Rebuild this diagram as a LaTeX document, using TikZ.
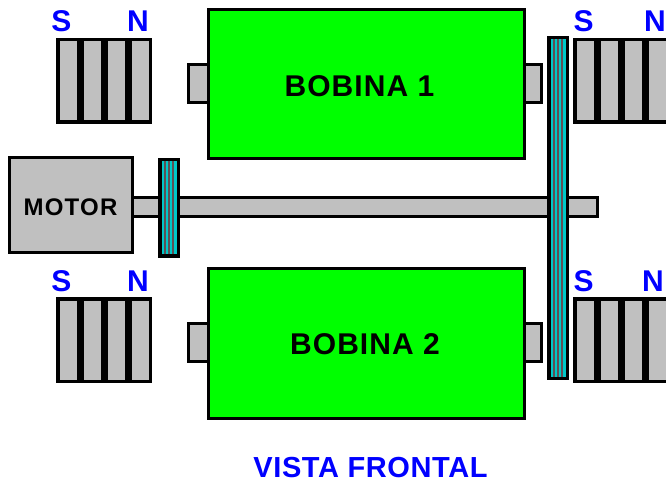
\documentclass[tikz,border=0pt]{standalone}
\usepackage{fontspec}
\setmainfont{Liberation Sans}
\newfontfamily\labelfont[LetterSpace=3.5]{Liberation Sans}
\newfontfamily\capfont[LetterSpace=2]{Liberation Sans}
\newfontfamily\motorfont[LetterSpace=5]{Liberation Sans}
\definecolor{partgray}{RGB}{192,192,192}
\definecolor{coilgreen}{RGB}{0,255,0}
\definecolor{poleblue}{RGB}{0,0,255}
\definecolor{beltteal}{RGB}{0,200,200}
\definecolor{beltline}{RGB}{95,80,85}
\newcommand{\magnetbank}[3]{%
  % #1 name, #2 left x, #3 top y
  \node[magnetback,anchor=north west] (#1) at (#2,#3) {};
  \foreach \dx in {3.5,27.5,51.5,75.5}
    \fill[partgray] (#2+\dx,#3+3.5) rectangle ++(17,79);
}
\newcommand{\beltstripes}[3]{%
  % #1 left x, #2 top y, #3 bottom y
  \fill[beltteal] (#1,#2) rectangle (#1+15,#3);
  \foreach \dx in {3.5,7.5,11.5}
    \draw[beltline,line width=1.5] (#1+\dx,#2) -- (#1+\dx,#3);
}
\tikzset{
  x=1pt,y=-1pt,
  outlined/.style={draw=black,line width=3,fill=partgray,inner sep=0,outer sep=0},
  magnetback/.style={fill=black,draw=none,minimum width=96,minimum height=86,inner sep=0,outer sep=0},
  coil/.style={outlined,fill=coilgreen,minimum width=316,minimum height=149},
  stub/.style={outlined,minimum width=18,minimum height=38},
  label/.style={font=\labelfont\bfseries\fontsize{30}{30}\selectfont,text=black,inner sep=0},
  pole/.style={font=\bfseries\fontsize{30}{30}\selectfont,text=poleblue,inner sep=0},
  caption/.style={font=\capfont\bfseries\fontsize{29}{29}\selectfont,text=poleblue,inner sep=0},
  motorlabel/.style={font=\motorfont\bfseries\fontsize{24}{24}\selectfont,text=black,inner sep=0},
}
\begin{document}
\begin{tikzpicture}
\useasboundingbox (0,0) rectangle (666,486);
\clip (0,0) rectangle (666,486);
% stubs
\node[stub,minimum width=20] (stub1l) at (198,84) {};
\node[stub,minimum width=20] (stub1r) at (531.5,84) {};
\node[stub,minimum width=20] (stub2l) at (198,342.5) {};
\node[stub,minimum width=20] (stub2r) at (531.5,342.5) {};
% coils
\node[coil] (coil1) at (366.5,84) {};
\node[coil,minimum height=150] (coil2) at (366.5,343.5) {};
\node[label] (t1) at (359.5,86) {BOBINA 1};
\node[label] (t2) at (365,344) {BOBINA 2};
% magnets
\magnetbank{m1}{56}{38}
\magnetbank{m2}{573}{38}
\magnetbank{m3}{56}{297}
\magnetbank{m4}{573}{297}
\node[pole] (s1) at (61.5,21.5) {S};
\node[pole] (n1) at (138,21.5) {N};
\node[pole] (s2) at (583.5,21.5) {S};
\node[pole] (n2) at (655,21.5) {N};
\node[pole] (s3) at (61.5,281) {S};
\node[pole] (n3) at (138,281) {N};
\node[pole] (s4) at (583.5,281) {S};
\node[pole] (n4) at (653,281) {N};
% shaft
\draw[outlined] (132,197.5) rectangle (597.5,216.5);
% motor
\node[outlined,minimum width=123,minimum height=95] (motor) at (70.5,205) {};
\node[motorlabel] (mt) at (70.5,207) {MOTOR};
% pulleys
\fill[black] (158,158) rectangle (180,258);
\beltstripes{161.5}{161.5}{254.5}
\fill[black] (547,36) rectangle (569,380);
\beltstripes{550.5}{39.5}{376.5}
% caption
\node[caption] (cap) at (370.5,467.5) {VISTA FRONTAL};
\end{tikzpicture}
\end{document}
